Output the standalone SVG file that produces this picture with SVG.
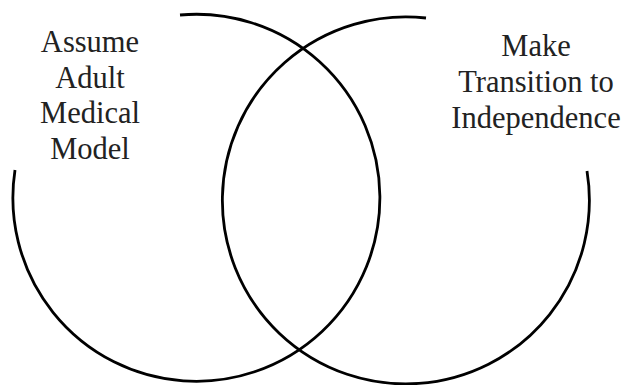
<svg xmlns="http://www.w3.org/2000/svg" width="624" height="385" viewBox="0 0 624 385">
<style>
.arc{fill:none;stroke:#000;stroke-width:2.8;stroke-linecap:butt}
.lbl{font-family:"Liberation Serif","Times New Roman",serif;font-size:30.5px;fill:#222;text-anchor:middle}
</style>
<rect width="624" height="385" fill="#fff"/>
<g id="connectors">
<path class="arc" d="M180,15 A183.5,183.5 0 1 1 15,170"/>
<path class="arc" d="M426,18 A183.5,183.5 0 1 0 587,171"/>
</g>
<g id="node-left">
<text class="lbl" x="90" y="52">Assume</text>
<text class="lbl" x="90" y="87.5">Adult</text>
<text class="lbl" x="90" y="123">Medical</text>
<text class="lbl" x="90" y="158.5">Model</text>
</g>
<g id="node-right">
<text class="lbl" x="536" y="56">Make</text>
<text class="lbl" x="536" y="92">Transition to</text>
<text class="lbl" x="536" y="128">Independence</text>
</g>
</svg>
